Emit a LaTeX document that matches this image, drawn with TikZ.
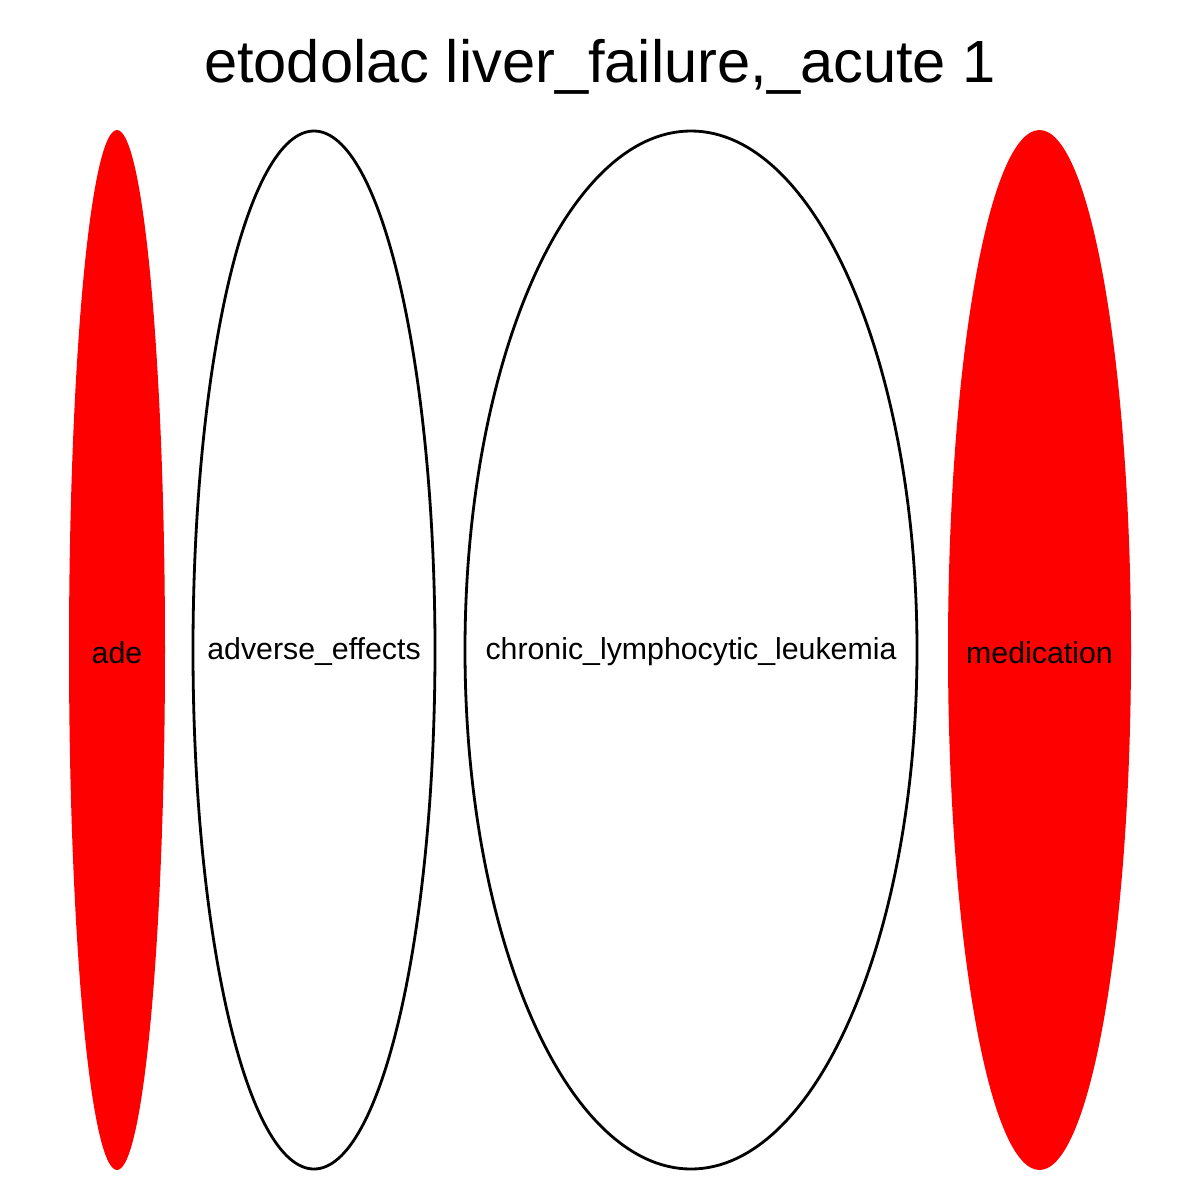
\documentclass[tikz,border=0pt]{standalone}
\usepackage{fontspec}
\setmainfont{Liberation Sans}
\usetikzlibrary{shapes.geometric}
\begin{document}
\begin{tikzpicture}[x=1pt,y=-1pt,
  redell/.style={ellipse,fill=red,draw=none,inner sep=0pt},
  whiteell/.style={ellipse,fill=white,draw=black,line width=2.8pt,inner sep=0pt},
  lbl/.style={font=\fontsize{30.3}{32}\selectfont}]
\useasboundingbox[fill=white] (0,0) rectangle (1200,1200);
\node[font=\fontsize{59.6}{62}\selectfont] (title) at (600,67) {etodolac liver\_failure,\_acute 1};
\node[redell,minimum width=96pt,minimum height=1040pt] (ade) at (117,650) {};
\node[whiteell,minimum width=242pt,minimum height=1038pt] (adv) at (314,650) {};
\node[whiteell,minimum width=452pt,minimum height=1038pt] (cll) at (691,650) {};
\node[redell,minimum width=183pt,minimum height=1040pt] (med) at (1039.5,650) {};
\node[lbl] (adetxt) at (117,653) {ade};
\node[lbl] (advtxt) at (314,652) {adverse\_effects};
\node[lbl] (clltxt) at (691,652) {chronic\_lymphocytic\_leukemia};
\node[lbl] (medtxt) at (1039.5,653) {medication};
\end{tikzpicture}
\end{document}
